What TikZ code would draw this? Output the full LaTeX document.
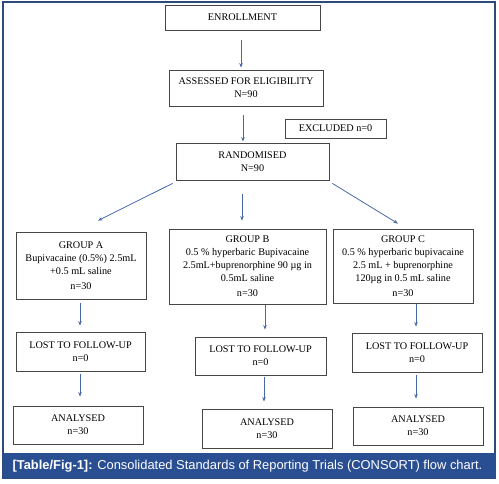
\documentclass[tikz,border=0pt]{standalone}
\usepackage{fontspec}
\setmainfont{Liberation Serif}
\newfontfamily\capfont{Liberation Sans}
\usepackage{xcolor}
\usetikzlibrary{arrows.meta, positioning, calc}

\definecolor{framenavy}{RGB}{44,74,122}
\definecolor{barblue}{RGB}{42,78,146}
\definecolor{arrowblue}{RGB}{72,104,168}
\definecolor{boxgray}{RGB}{70,70,70}

\begin{document}
\begin{tikzpicture}[
    x=1pt, y=-1pt,
    every node/.style={font=\fontsize{10.2}{13}\selectfont},
    box/.style={rectangle, draw=boxgray, line width=0.8pt, align=center, inner sep=2pt},
    arrow/.style={-{Stealth[length=4.5pt, width=3.5pt]}, draw=arrowblue, line width=0.8pt}
]
\useasboundingbox (0,0) rectangle (499,483);

% frame and caption bar
\draw[framenavy, line width=1.5pt] (3,2) rectangle (495,478);
\fill[barblue] (3,453) rectangle (496,478);
\node[anchor=west, text=white, font=\capfont\fontsize{12.9}{15}\selectfont] (caption) at (9,466)
    {\textbf{[Table/Fig-1]:} Consolidated Standards of Reporting Trials (CONSORT) flow chart.};

% top of the chart
\node[box, minimum width=155, minimum height=25] (enroll) at (242.5,17.5) {ENROLLMENT};
\node[box, minimum width=154, minimum height=36] (assess) at (246,88) {ASSESSED FOR ELIGIBILITY\\N=90};
\node[box, minimum width=101, minimum height=19] (excl) at (335.5,128.5) {EXCLUDED n=0};
\node[box, minimum width=153, minimum height=37] (rand) at (252.5,161.5) {RANDOMISED\\N=90};

% the three groups
\node[box, minimum width=130, minimum height=67] (grpA) at (81,265.5)
    {GROUP A\\Bupivacaine (0.5\%) 2.5mL\\+0.5 mL saline\\[2pt]n=30};
\node[box, minimum width=157, minimum height=75] (grpB) at (247.5,266.5)
    {GROUP B\\0.5 \% hyperbaric Bupivacaine\\2.5mL+buprenorphine 90 µg in\\0.5mL saline\\[2pt]n=30};
\node[box, minimum width=140, minimum height=74] (grpC) at (403,266)
    {GROUP C\\0.5 \% hyperbaric bupivacaine\\2.5 mL + buprenorphine\\120µg in 0.5 mL saline\\[2pt]n=30};

% follow-up
\node[box, minimum width=129, minimum height=39] (lostA) at (80.5,351.5) {LOST TO FOLLOW-UP\\n=0};
\node[box, minimum width=131, minimum height=38] (lostB) at (260.5,356) {LOST TO FOLLOW-UP\\n=0};
\node[box, minimum width=130, minimum height=39] (lostC) at (417,352.5) {LOST TO FOLLOW-UP\\n=0};

% analysis
\node[box, minimum width=130, minimum height=38] (anaA) at (78,425) {ANALYSED\\n=30};
\node[box, minimum width=130, minimum height=39] (anaB) at (267,428.5) {ANALYSED\\n=30};
\node[box, minimum width=130, minimum height=38] (anaC) at (418,426) {ANALYSED\\n=30};

\draw[arrow, shorten <=10pt, shorten >=2pt] ([xshift=-1.5pt]enroll.south) -- ([xshift=-1.5pt]enroll.south |- assess.north);
\draw[arrow, shorten <=9pt, shorten >=1pt] ([xshift=-3pt]assess.south) -- ([xshift=-3pt]assess.south |- rand.north);
\draw[arrow] ($(rand.south west)+(-3,3)$) -- ($(grpA.north)+(17,-11)$);
\draw[arrow, shorten <=14pt, shorten >=8pt] ([xshift=-10.5pt]rand.south) -- ([xshift=-10.5pt]rand.south |- grpB.north);
\draw[arrow] ($(rand.south east)+(3,3)$) -- ($(grpC.north)+(-5,-5)$);

\draw[arrow, shorten <=4pt, shorten >=6pt] ([xshift=-1pt]grpA.south) -- ([xshift=-1pt]grpA.south |- lostA.north);
\draw[arrow, shorten <=1pt, shorten >=7pt] ([xshift=17.5pt]grpB.south) -- ([xshift=17.5pt]grpB.south |- lostB.north);
\draw[arrow, shorten <=1pt, shorten >=6pt] ([xshift=13pt]grpC.south) -- ([xshift=13pt]grpC.south |- lostC.north);

\draw[arrow, shorten <=3pt, shorten >=9pt] ([xshift=-0.5pt]lostA.south) -- ([xshift=-0.5pt]lostA.south |- anaA.north);
\draw[arrow, shorten <=2pt, shorten >=7pt] ([xshift=3.5pt]lostB.south) -- ([xshift=3.5pt]lostB.south |- anaB.north);
\draw[arrow, shorten <=3pt, shorten >=8pt] ([xshift=-1pt]lostC.south) -- ([xshift=-1pt]lostC.south |- anaC.north);

\end{tikzpicture}
\end{document}
